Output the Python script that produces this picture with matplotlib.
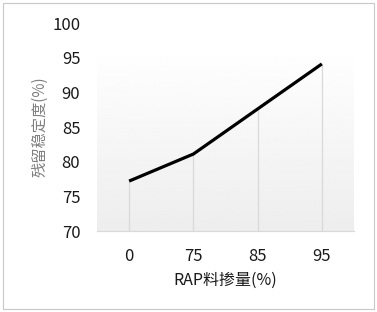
import numpy as np
from matplotlib import pyplot as plt
from matplotlib.patches import Rectangle

plt.rcParams['font.family'] = ['Noto Sans CJK SC', 'DejaVu Sans']

categories = ['0', '75', '85', '95']
stability = [77.2, 81.1, 87.6, 94.1]

fig = plt.figure(figsize=(3.77, 3.12), dpi=100)
ax = fig.add_axes([97 / 377, 1 - 231 / 312, 257 / 377, 208 / 312])

x = np.arange(len(categories))
ax.set_xlim(-0.5, len(categories) - 0.5)
ax.set_ylim(70, 100)

# plot area gradient (white at top -> light grey at bottom)
grad = np.linspace(1.0, 0.93, 256).reshape(-1, 1)
ax.imshow(grad, cmap='gray', vmin=0, vmax=1, aspect='auto',
          extent=[-0.5, len(categories) - 0.5, 70, 96.7], zorder=0)

ax.vlines(x, 70, stability, color='#d9d9d9', lw=0.9, zorder=1)
ax.plot(x, stability, color='black', lw=2.3, zorder=3, solid_capstyle='butt')

ax.set_xticks(x)
ax.set_xticklabels(categories)
ax.set_yticks([70, 75, 80, 85, 90, 95, 100])
ax.tick_params(axis='both', length=0, labelsize=12, colors='#1a1a1a')
ax.tick_params(axis='x', pad=12)
ax.tick_params(axis='y', pad=12)

for s in ['top', 'right', 'left']:
    ax.spines[s].set_visible(False)
ax.spines['bottom'].set_color('#d9d9d9')
ax.spines['bottom'].set_linewidth(0.9)

ax.set_xlabel('RAP料掺量(%)', fontsize=11.5, color='#1a1a1a', labelpad=5)
ax.set_ylabel('残留稳定度(%)', fontsize=11, color='#7f7f7f', labelpad=3)

fig.patches.append(Rectangle((3 / 377, 3 / 312), 371 / 377, 306 / 312,
                             transform=fig.transFigure, fill=False,
                             edgecolor='#c8c8c8', lw=0.8))

fig.savefig('out.png', dpi=100)
